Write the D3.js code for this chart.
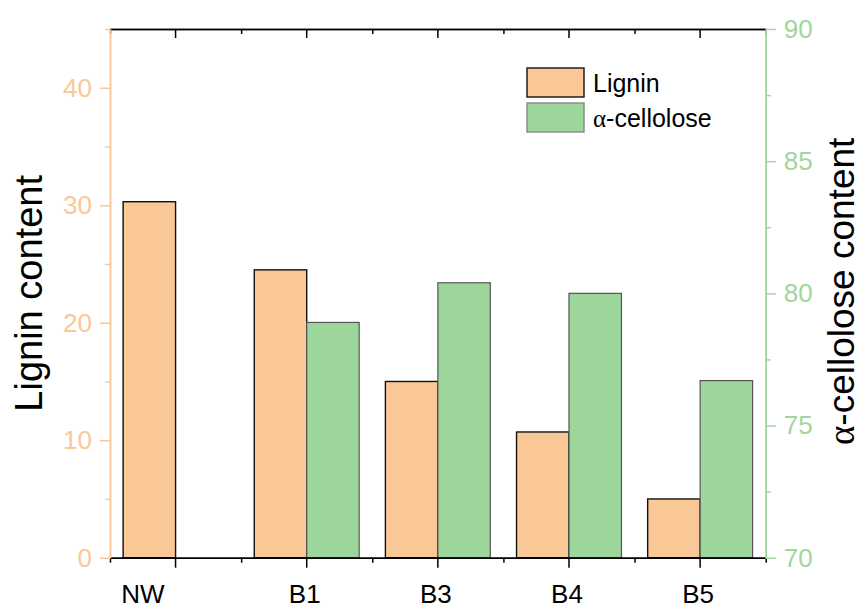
<!DOCTYPE html>
<html>
<head>
<meta charset="utf-8">
<script src="https://cdn.jsdelivr.net/npm/d3@7"></script>
<style>
  html, body { margin: 0; padding: 0; background: #fff; }
  svg { display: block; font-family: "Liberation Sans", Arial, sans-serif; }
</style>
</head>
<body>
<svg id="chart" width="863" height="608"></svg>
<script>
// ---- data ----
const categories = ["NW", "B1", "B3", "B4", "B5"];
const lignin = [30.3, 24.5, 15.0, 10.7, 5.0];
const cellulose = [null, 78.9, 80.4, 80.0, 76.7];
const leftTicks = [0, 10, 20, 30, 40];
const leftMinorTicks = [5, 15, 25, 35, 45];
const rightTicks = [70, 75, 80, 85, 90];
const rightMinorTicks = [72.5, 77.5, 82.5, 87.5];
const seriesNames = ["Lignin", "-cellolose"];

// ---- styles ----
const orange = "#FAC896";
const green = "#9DD69B";
const leftAxisColor = "#F9C898";
const rightAxisColor = "#9ED69B";

const svg = d3.select("#chart");
const L = 110, R = 765.7, T = 29, B = 557.7;

const x = d3.scaleBand().domain(categories).range([L, R]).padding(0);
const xEdges = d3.scaleLinear().domain([0, categories.length]).range([L, R]);
const yL = d3.scaleLinear().domain([0, 45]).range([B, T]);
const yR = d3.scaleLinear().domain([70, 90]).range([B, T]);
const bw = x.bandwidth();
const barW = bw * 0.4;

// bars: lignin
svg.append("g").selectAll("rect").data(categories).join("rect")
  .attr("x", (c) => x(c) + bw * 0.1)
  .attr("y", (c, i) => yL(lignin[i]))
  .attr("width", barW)
  .attr("height", (c, i) => yL(0) - yL(lignin[i]))
  .attr("fill", orange)
  .attr("stroke", "#111")
  .attr("stroke-width", 1.4);

// bars: cellulose
svg.append("g").selectAll("rect")
  .data(categories.map((c, i) => ({ c, v: cellulose[i] })).filter(d => d.v != null))
  .join("rect")
  .attr("x", d => x(d.c) + bw * 0.5)
  .attr("y", d => yR(d.v))
  .attr("width", barW)
  .attr("height", d => yR(70) - yR(d.v))
  .attr("fill", green)
  .attr("stroke", "#555")
  .attr("stroke-width", 1.2);

function styleAxis(g, color) {
  g.selectAll("path.domain").attr("stroke", color).attr("stroke-width", 1.5);
  g.selectAll(".tick line").attr("stroke", color).attr("stroke-width", 1.5);
  g.selectAll(".tick text").attr("fill", color)
    .attr("font-size", 26).attr("font-family", "Liberation Sans, Arial, sans-serif");
}

// bottom axis (major ticks at category centers)
const gB = svg.append("g").attr("transform", `translate(0,${B})`)
  .call(d3.axisBottom(x).tickSize(10).tickSizeOuter(0).tickPadding(16.5));
styleAxis(gB, "#000");
gB.selectAll(".tick text").attr("fill", "#000").attr("font-size", 26)
  .attr("x", (c, i) => cellulose[i] == null ? -bw * 0.25 : -2);
// bottom minor ticks at band edges
const gBm = svg.append("g").attr("transform", `translate(0,${B})`)
  .call(d3.axisBottom(xEdges).tickValues(d3.range(categories.length + 1)).tickSize(5).tickSizeOuter(0).tickFormat(""));
styleAxis(gBm, "#000");

// top axis (ticks inward)
const gT = svg.append("g").attr("transform", `translate(0,${T})`)
  .call(d3.axisBottom(x).tickSize(9).tickSizeOuter(0).tickFormat(""));
styleAxis(gT, "#000");
const gTm = svg.append("g").attr("transform", `translate(0,${T})`)
  .call(d3.axisBottom(xEdges).tickValues(d3.range(categories.length + 1)).tickSize(5).tickSizeOuter(0).tickFormat(""));
styleAxis(gTm, "#000");

// left axis
const gL = svg.append("g").attr("transform", `translate(${L},0)`)
  .call(d3.axisLeft(yL).tickValues(leftTicks).tickSize(10).tickSizeOuter(0).tickPadding(8));
styleAxis(gL, leftAxisColor);
const gLm = svg.append("g").attr("transform", `translate(${L},0)`)
  .call(d3.axisLeft(yL).tickValues(leftMinorTicks).tickSize(5).tickSizeOuter(0).tickFormat(""));
styleAxis(gLm, leftAxisColor);

// right axis
const gR = svg.append("g").attr("transform", `translate(${R},0)`)
  .call(d3.axisRight(yR).tickValues(rightTicks).tickSize(10).tickSizeOuter(0).tickPadding(8));
styleAxis(gR, rightAxisColor);
const gRm = svg.append("g").attr("transform", `translate(${R},0)`)
  .call(d3.axisRight(yR).tickValues(rightMinorTicks).tickSize(5).tickSizeOuter(0).tickFormat(""));
styleAxis(gRm, rightAxisColor);

// axis titles
svg.append("text")
  .attr("transform", `translate(42,${(T + B) / 2 + 0}) rotate(-90)`)
  .attr("text-anchor", "middle")
  .attr("font-size", 38)
  .attr("fill", "#000")
  .text("Lignin content");

const rt = svg.append("text")
  .attr("transform", `translate(854,${(T + B) / 2 - 2}) rotate(-90)`)
  .attr("text-anchor", "middle")
  .attr("font-size", 37)
  .attr("fill", "#000");
rt.append("tspan").attr("font-family", "Liberation Serif, serif").text("α");
rt.append("tspan").text("-cellolose content");

// legend
const legend = svg.append("g").attr("transform", "translate(527,68)");
const legItems = [
  { fill: orange, stroke: "#111" },
  { fill: green, stroke: "#888" }
];
legItems.forEach((it, i) => {
  const g = legend.append("g").attr("transform", `translate(0,${i * 35})`);
  g.append("rect").attr("width", 57).attr("height", 29)
    .attr("fill", it.fill).attr("stroke", it.stroke).attr("stroke-width", 1.4);
  const t = g.append("text").attr("x", 66).attr("y", 14.5).attr("dy", "0.36em")
    .attr("font-size", 25).attr("fill", "#000");
  if (i === 1) {
    t.append("tspan").attr("font-family", "Liberation Serif, serif").text("α");
  }
  t.append("tspan").text(i === 0 ? seriesNames[0] : seriesNames[1]);
});
</script>
</body>
</html>
